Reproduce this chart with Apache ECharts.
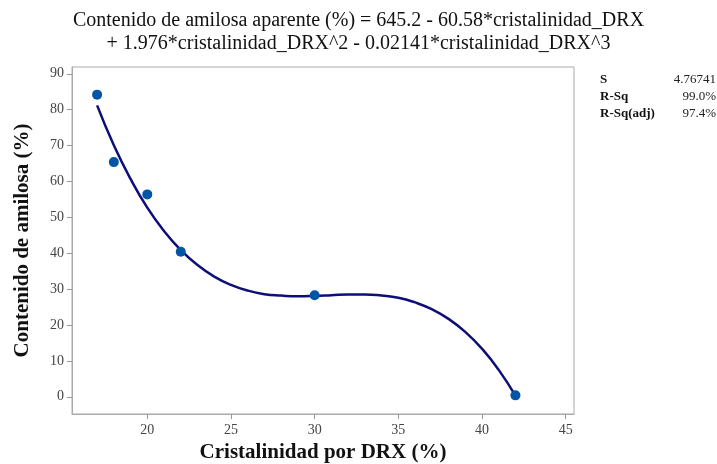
<!DOCTYPE html>
<html><head><meta charset="utf-8">
<script src="https://cdn.jsdelivr.net/npm/echarts@6/dist/echarts.min.js"></script>
<style>html,body{margin:0;padding:0;background:#fff}#c{width:717px;height:464px}</style>
</head><body><div id="c"></div>
<script>
// Observed data points
const crystX = [17, 18, 20, 22, 30, 42];
const amylose = [84.2, 65.4, 56.4, 40.4, 28.3, 0.4];
// Fitted cubic curve values
const fitX = [17,18,19,20,21,22,23,24,25,26,27,28,29,30,31,32,33,34,35,36,37,38,39,40,41,42];
const fitY = [81.2,70.1,60.7,52.7,46.2,40.9,36.7,33.5,31.2,29.6,28.6,28.2,28.0,28.1,28.3,28.5,28.5,28.2,27.6,26.3,24.4,21.7,18.1,13.4,7.5,0.3];
const xTicks = [20,25,30,35,40,45];
const yTicks = [0,10,20,30,40,50,60,70,80,90];
const titleLines = ['Contenido de amilosa aparente (%) = 645.2 - 60.58*cristalinidad_DRX', '+ 1.976*cristalinidad_DRX^2 - 0.02141*cristalinidad_DRX^3'];
const statNames = ['S', 'R-Sq', 'R-Sq(adj)'];
const statVals = ['4.76741', '99.0%', '97.4%'];

const serif = '"Liberation Serif","DejaVu Serif",serif';
const chart = echarts.init(document.getElementById('c'), null, {renderer:'canvas'});
const pts = crystX.map((x,i)=>[x, amylose[i]]);
const fit = fitX.map((x,i)=>[x, fitY[i]]);
const rowTops = [73, 90, 107];
const graphics = [];
statNames.forEach((n,i)=>{
  graphics.push({type:'text', left:600, top:rowTops[i], style:{text:n, font:'bold 13px '+serif, fill:'#111'}});
  graphics.push({type:'text', right:1, top:rowTops[i], style:{text:statVals[i], font:'13px '+serif, fill:'#222', textAlign:'right'}});
});
chart.setOption({
  animation:false,
  title:{text:titleLines.join('\n'), left:'center', top:4, textStyle:{fontFamily:serif, fontWeight:'normal', fontSize:20, color:'#111', lineHeight:23}},
  grid:{left:72, top:67, right:143, bottom:50, show:true, borderColor:'#aaa', borderWidth:1, containLabel:false, outerBoundsMode:'none'},
  xAxis:{type:'value', min:15.5, max:45.5,
    name:'Cristalinidad por DRX (%)', nameLocation:'middle', nameGap:27,
    nameTextStyle:{fontFamily:serif, fontWeight:'bold', fontSize:21, color:'#111'},
    axisLine:{show:true, onZero:false, lineStyle:{color:'#aaa'}},
    axisTick:{show:true, length:5, lineStyle:{color:'#999'}, customValues:xTicks},
    axisLabel:{fontFamily:serif, fontSize:14, color:'#444', margin:9, customValues:xTicks},
    splitLine:{show:false}},
  yAxis:{type:'value', min:-4.8, max:91.9,
    name:'Contenido de amilosa (%)', nameLocation:'middle', nameGap:39,
    nameTextStyle:{fontFamily:serif, fontWeight:'bold', fontSize:21, color:'#111'},
    axisLine:{show:true, onZero:false, lineStyle:{color:'#aaa'}},
    axisTick:{show:true, length:5, lineStyle:{color:'#999'}, customValues:yTicks},
    axisLabel:{fontFamily:serif, fontSize:14, color:'#444', margin:8, customValues:yTicks},
    splitLine:{show:false}},
  graphic:graphics,
  series:[
    {type:'line', data:fit, smooth:true, showSymbol:false, lineStyle:{color:'#0e0e78', width:2.5}, z:2},
    {type:'scatter', data:pts, symbolSize:10, itemStyle:{color:'#0055a5', opacity:1}, z:3}
  ]
});
</script></body></html>
